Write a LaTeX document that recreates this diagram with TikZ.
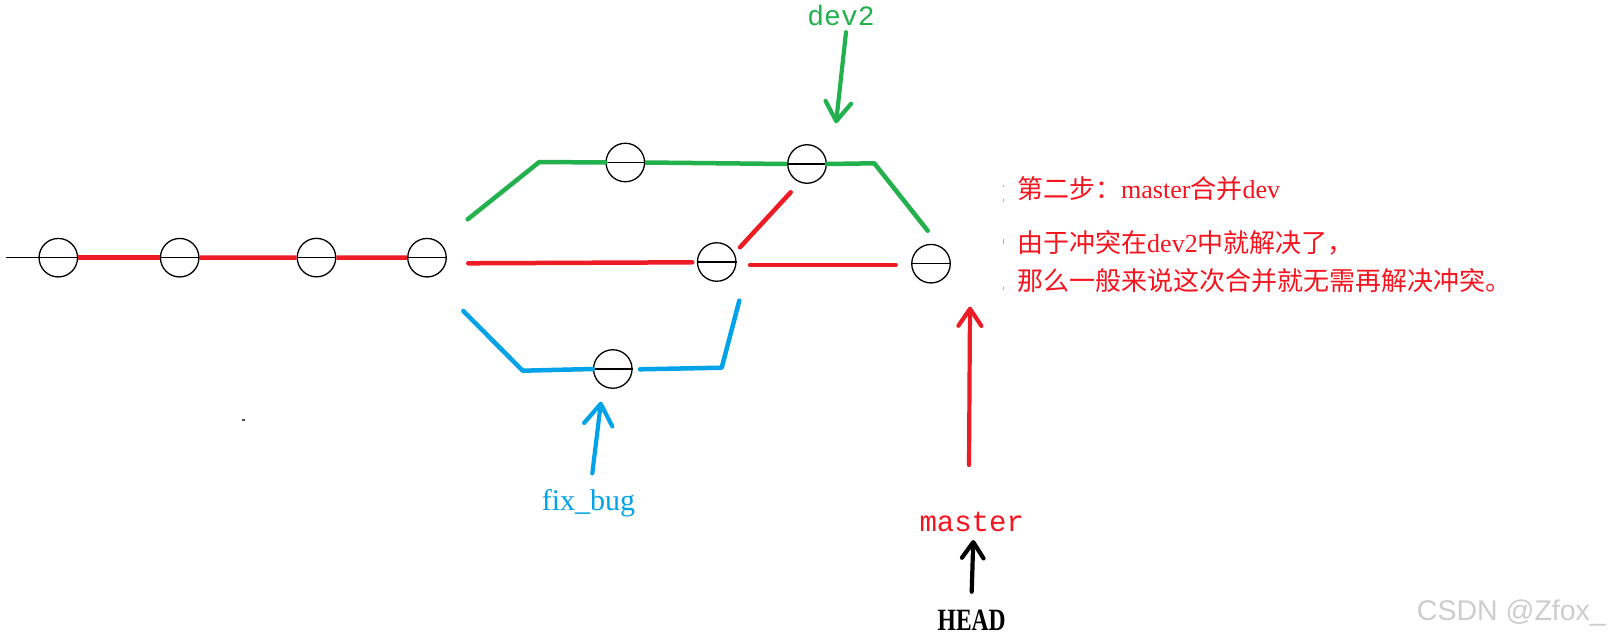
\documentclass[tikz,border=0pt]{standalone}
\usepackage{fontspec}
\setmainfont{Liberation Serif}
\newfontfamily\cjk{Noto Sans CJK SC}
\newfontfamily\monofam{Liberation Mono}
\newfontfamily\sansfam{Liberation Sans}
\usetikzlibrary{arrows.meta}
\definecolor{pred}{RGB}{237,28,36}
\definecolor{pgreen}{RGB}{34,177,76}
\definecolor{pblue}{RGB}{0,162,232}
\definecolor{tred}{RGB}{245,20,30}
\definecolor{wmark}{RGB}{205,205,205}
\definecolor{tickpink}{RGB}{225,140,190}
\begin{document}
\begin{tikzpicture}[x=1pt,y=-1pt,
  commit/.style={circle,draw=black,line width=1.3pt,minimum size=38.5pt,inner sep=0pt},
  dia/.style={draw=black,line width=1.4pt},
  rline/.style={draw=pred,line width=4.5pt,line cap=round,line join=round},
  gline/.style={draw=pgreen,line width=4.5pt,line cap=round,line join=round},
  bline/.style={draw=pblue,line width=4.5pt,line cap=round,line join=round},
  arr/.style={line width=4.2pt,line cap=round,-{Straight Barb[length=#1,width=1.35*#1,line cap=round,line join=round]}},
  notetext/.style={anchor=base west,text=tred,inner sep=0pt}
]
\useasboundingbox[fill=white] (0,0) rectangle (1608,639);

% commits
\node[commit] (c1) at (58.3,257.7) {};
\node[commit] (c2) at (179.7,257.7) {};
\node[commit] (c3) at (316.5,257.6) {};
\node[commit] (c4) at (427,257.7) {};
\node[commit] (g1) at (625.3,162.5) {};
\node[commit] (g2) at (807,164) {};
\node[commit] (r5) at (716.7,262) {};
\node[commit] (r6) at (931,263.7) {};
\node[commit] (b1) at (612.8,369) {};
\foreach \n in {c1,c2,c3,c4,g1,g2,r5,r6,b1} {\draw[dia] (\n.west) -- (\n.east);}

% main line
\coordinate (start) at (6,257.7);
\draw[dia] (start) -- (c1.west);
\draw[rline,line cap=butt] (c1.east) -- (c2.west);
\draw[rline,line cap=butt] (c2.east) -- (c3.west);
\draw[rline,line cap=butt] (c3.east) -- (c4.west);

% green branch
\coordinate (ga) at (467.7,219.3);
\coordinate (gb) at (539.3,162);
\coordinate (gc) at (874.3,163.3);
\coordinate (gd) at (927.7,230.7);
\draw[gline] (ga) -- (gb) -- (g1.west);
\draw[gline,line cap=butt] (g1.east) -- (g2.west);
\draw[gline] (g2.east) -- (gc) -- (gd);

% red branch
\coordinate (ra) at (468.3,263.3);
\coordinate (rb) at (692.3,262.3);
\coordinate (rc) at (740,247.3);
\coordinate (rd) at (790.7,192.3);
\coordinate (re) at (750,265);
\coordinate (rf) at (895.7,265);
\draw[rline] (ra) -- (rb);
\draw[rline] (rc) -- (rd);
\draw[rline] (re) -- (rf);

% blue branch
\coordinate (ba) at (463.3,311);
\coordinate (bb) at (522.7,370.7);
\coordinate (bc) at (640,369.3);
\coordinate (bd) at (721.7,367.7);
\coordinate (be) at (739.3,300.7);
\draw[bline] (ba) -- (bb) -- (b1.west);
\draw[bline] (bc) -- (bd) -- (be);

% labels
\node[anchor=base,text=pgreen,inner sep=0pt] (dev2) at (841,26) {\fontsize{28}{32}\selectfont\monofam dev2};
\node[anchor=base,text=pblue,inner sep=0pt] (fix) at (588.5,510) {\fontsize{30}{34}\selectfont fix\_bug};
\node[anchor=base,text=tred,inner sep=0pt] (master) at (971.7,531) {\fontsize{29}{33}\selectfont\monofam master};
\node[anchor=base,inner sep=0pt] (head) at (971.7,630) {\fontsize{31}{35}\selectfont\scalebox{0.76}[1]{\bfseries HEAD}};

% arrows
\coordinate (dA) at (846,32.3);
\coordinate (dB) at (836,123.3);
\draw[arr=19pt,draw=pgreen] (dA) -- (dB);
\coordinate (fA) at (592.3,473.3);
\coordinate (fB) at (601,401.7);
\draw[arr=21pt,draw=pblue] (fA) -- (fB);
\coordinate (mA) at (969,465);
\coordinate (mB) at (970,306.7);
\draw[arr=17pt,draw=pred] (mA) -- (mB);
\coordinate (hA) at (971.7,591.7);
\coordinate (hB) at (973.3,540);
\draw[arr=16pt,draw=black] (hA) -- (hB);

% note text
\node[notetext] (n1) at (1017,199) {\fontsize{26}{30}\selectfont\cjk 第二步：\rmfamily master\cjk 合并\rmfamily dev};
\node[notetext] (n2) at (1017,252) {\fontsize{26}{30}\selectfont\cjk 由于冲突在\rmfamily dev2\cjk 中就解决了，};
\node[notetext] (n3) at (1017,290) {\fontsize{26}{30}\selectfont\cjk 那么一般来说这次合并就无需再解决冲突。};

% small marks
\foreach \ya/\yb in {185/187,199/202,239/244,287/290} {\draw[tickpink,line width=1pt] (1003,\ya) -- (1003,\yb);}
\fill[black!70] (242,419) rectangle (245,421);

% watermark
\node[anchor=base east,text=wmark,inner sep=0pt] (wm) at (1606,620) {\fontsize{28.5}{32}\selectfont\sansfam CSDN @Zfox\_};
\end{tikzpicture}
\end{document}
